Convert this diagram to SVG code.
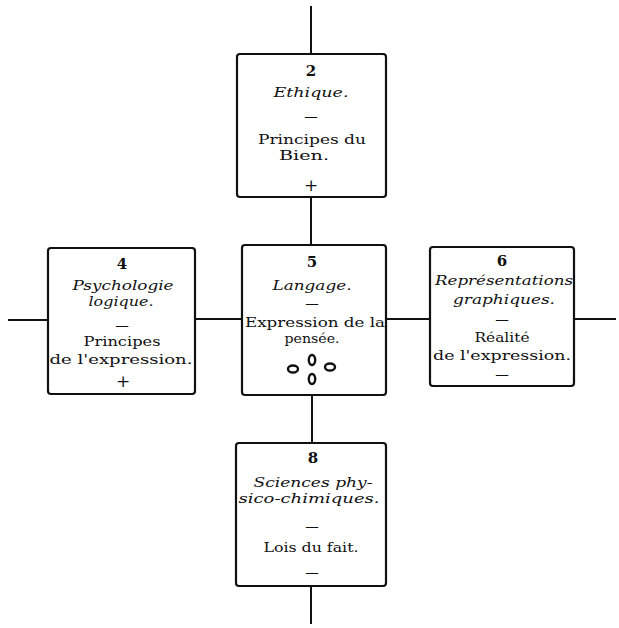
<svg xmlns="http://www.w3.org/2000/svg" width="619" height="628" viewBox="0 0 619 628">
<style>
  .box { fill: #fff; stroke: #111; stroke-width: 2.2; }
  .conn { stroke: #111; stroke-width: 2; fill: none; }
  text { font-family: "DejaVu Serif", "Liberation Serif", serif; font-size: 13.5px; fill: #111; text-anchor: middle; }
  .num { font-weight: bold; font-size: 15px; }
  .it { font-style: italic; }
  .pl { font-size: 17px; }
  .sym { fill: none; stroke: #111; stroke-width: 2.4; }
</style>
<rect width="619" height="628" fill="#fff"/>
<g id="connectors">
  <line class="conn" x1="311" y1="6" x2="311" y2="54"/>
  <line class="conn" x1="311" y1="197" x2="311" y2="245"/>
  <line class="conn" x1="312" y1="395" x2="312" y2="443"/>
  <line class="conn" x1="311" y1="586" x2="311" y2="624"/>
  <line class="conn" x1="8" y1="320" x2="48" y2="320"/>
  <line class="conn" x1="195" y1="319" x2="242" y2="319"/>
  <line class="conn" x1="386" y1="319" x2="430" y2="319"/>
  <line class="conn" x1="574" y1="319" x2="616" y2="319"/>
</g>
<g id="node2">
  <rect class="box" x="237" y="54" width="149" height="143" rx="3"/>
  <text class="num" x="311" y="76">2</text>
  <text class="it" x="311" y="97" textLength="75" lengthAdjust="spacingAndGlyphs">Ethique.</text>
  <text x="311" y="121">—</text>
  <text x="312" y="144" textLength="108" lengthAdjust="spacingAndGlyphs">Principes du</text>
  <text x="304" y="160" textLength="50" lengthAdjust="spacingAndGlyphs">Bien.</text>
  <text class="pl" x="311" y="191">+</text>
</g>
<g id="node4">
  <rect class="box" x="48" y="248" width="147" height="146" rx="3"/>
  <text class="num" x="122" y="269">4</text>
  <text class="it" x="123" y="290" textLength="101" lengthAdjust="spacingAndGlyphs">Psychologie</text>
  <text class="it" x="121" y="306" textLength="65" lengthAdjust="spacingAndGlyphs">logique.</text>
  <text x="122" y="330">—</text>
  <text x="122" y="346" textLength="77" lengthAdjust="spacingAndGlyphs">Principes</text>
  <text x="121" y="364" textLength="143" lengthAdjust="spacingAndGlyphs">de l'expression.</text>
  <text class="pl" x="123" y="387">+</text>
</g>
<g id="node5">
  <rect class="box" x="242" y="245" width="144" height="150" rx="3"/>
  <text class="num" x="312" y="267">5</text>
  <text class="it" x="312" y="290" textLength="79" lengthAdjust="spacingAndGlyphs">Langage.</text>
  <text x="312" y="308">—</text>
  <text x="315" y="327" textLength="140" lengthAdjust="spacingAndGlyphs">Expression de la</text>
  <text x="312" y="343" textLength="55" lengthAdjust="spacingAndGlyphs">pensée.</text>
  <ellipse class="sym" cx="293" cy="369" rx="5" ry="3.5"/>
  <ellipse class="sym" cx="312" cy="360" rx="3.2" ry="5"/>
  <ellipse class="sym" cx="312" cy="379" rx="3.2" ry="5"/>
  <ellipse class="sym" cx="330" cy="367" rx="5" ry="3.5"/>
</g>
<g id="node6">
  <rect class="box" x="430" y="247" width="144" height="139" rx="3"/>
  <text class="num" x="502" y="266">6</text>
  <text class="it" x="504" y="285" textLength="138" lengthAdjust="spacingAndGlyphs">Représentations</text>
  <text class="it" x="504" y="304" textLength="102" lengthAdjust="spacingAndGlyphs">graphiques.</text>
  <text x="502" y="324">—</text>
  <text x="502" y="342" textLength="55" lengthAdjust="spacingAndGlyphs">Réalité</text>
  <text x="502" y="360" textLength="138" lengthAdjust="spacingAndGlyphs">de l'expression.</text>
  <text x="502" y="379">—</text>
</g>
<g id="node8">
  <rect class="box" x="236" y="443" width="150" height="143" rx="3"/>
  <text class="num" x="313" y="463">8</text>
  <text class="it" x="313" y="487" textLength="119" lengthAdjust="spacingAndGlyphs">Sciences phy-</text>
  <text class="it" x="309" y="503" textLength="141" lengthAdjust="spacingAndGlyphs">sico-chimiques.</text>
  <text x="312" y="531">—</text>
  <text x="311" y="552" textLength="95" lengthAdjust="spacingAndGlyphs">Lois du fait.</text>
  <text x="312" y="577">—</text>
</g>
</svg>
